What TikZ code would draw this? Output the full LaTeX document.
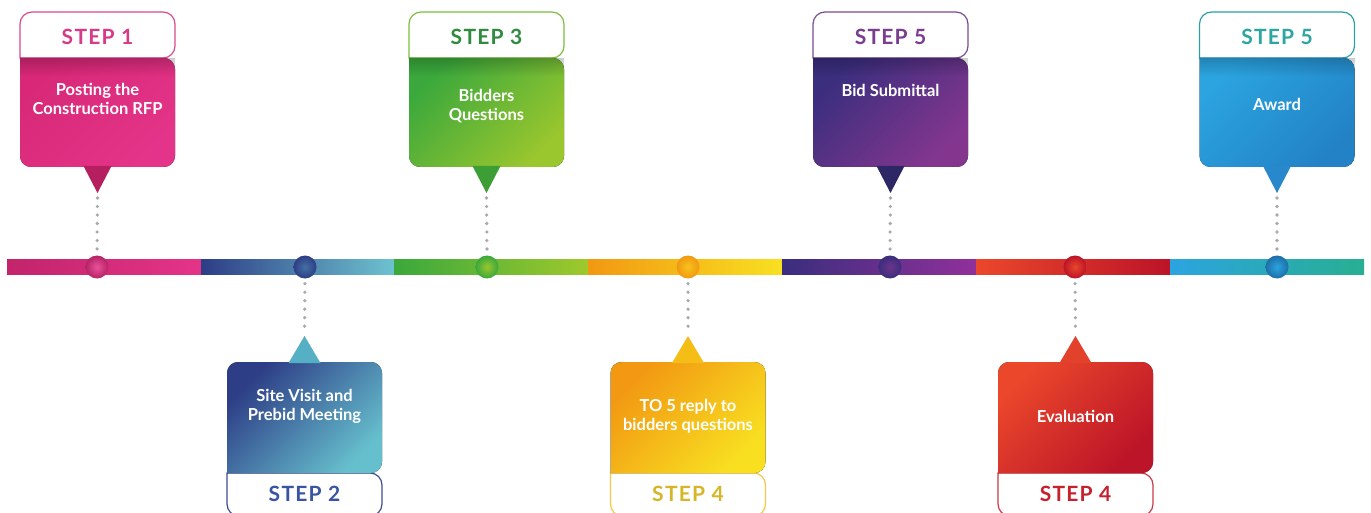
\documentclass[tikz,border=0pt]{standalone}
\usepackage{fontspec}
\setsansfont{Lato}
\newfontfamily\stepfont{Lato}[LetterSpace=6]
\usetikzlibrary{positioning,fadings}

% colour sets: A/B box, O outline, L label, T pointer
\definecolor{pinkA}{HTML}{D82877}\definecolor{pinkB}{HTML}{E43489}
\definecolor{pinkO}{HTML}{D84B8C}\definecolor{pinkL}{HTML}{D73A86}\definecolor{pinkT}{HTML}{B51F60}
\definecolor{navyA}{HTML}{2D3D86}\definecolor{navyB}{HTML}{66BFCD}
\definecolor{navyO}{HTML}{3E4E93}\definecolor{navyL}{HTML}{3955A2}\definecolor{navyT}{HTML}{55AFC5}
\definecolor{grnA}{HTML}{3AA83C}\definecolor{grnB}{HTML}{9AC62E}
\definecolor{grnO}{HTML}{7DBE3C}\definecolor{grnL}{HTML}{2F8B3D}\definecolor{grnT}{HTML}{3E9E36}
\definecolor{ylwA}{HTML}{F29812}\definecolor{ylwB}{HTML}{F8E021}
\definecolor{ylwO}{HTML}{F2C84A}\definecolor{ylwL}{HTML}{D6B628}\definecolor{ylwT}{HTML}{F5BE17}
\definecolor{purA}{HTML}{3A2E7D}\definecolor{purB}{HTML}{84368F}
\definecolor{purO}{HTML}{7A4A92}\definecolor{purL}{HTML}{7B3D90}\definecolor{purT}{HTML}{2D2766}
\definecolor{redA}{HTML}{EA472B}\definecolor{redB}{HTML}{BC1428}
\definecolor{redO}{HTML}{C83A45}\definecolor{redL}{HTML}{C5212F}\definecolor{redT}{HTML}{E2422B}
\definecolor{skyA}{HTML}{2BA4E0}\definecolor{skyB}{HTML}{2282C5}
\definecolor{skyO}{HTML}{2C9FA6}\definecolor{skyL}{HTML}{2CA6A2}\definecolor{skyT}{HTML}{2788CB}
\definecolor{leadgrey}{HTML}{A9A9AD}

% box above the line: x, id, colour set, label, text, text y
\newcommand{\topstep}[6]{%
  \filldraw[fill=white,draw=#3O,line width=1.2pt]
    (#1-77.5,58) [rounded corners=12pt] -- (#1-77.5,12) -- (#1+77.5,12) -- (#1+77.5,58) [sharp corners] -- cycle;
  \fill[left color=#3A,right color=#3B,shading angle=45]
    (#1-77.5,58) [rounded corners=11pt] -- (#1-77.5,167) -- (#1+77.5,167) -- (#1+77.5,58) [sharp corners] -- cycle;
  \fill[black,opacity=.2,path fading=south] (#1-77.5,58) rectangle (#1+77.5,76);
  \fill[#3T] (#1-14,166) -- (#1+14,166) -- (#1,193) -- cycle;
  \coordinate (tip#2) at (#1,193);
  \node[steplabel,text=#3L] (lab#2) at (#1,37) {#4};
  \node[steptext] (txt#2) at (#1,#6) {#5};
  \draw[lead] (tip#2) -- (dot#2.north);
}
% box below the line
\newcommand{\botstep}[6]{%
  \filldraw[fill=white,draw=#3O,line width=1.2pt]
    (#1-77.5,473) [rounded corners=12pt] -- (#1-77.5,516) -- (#1+77.5,516) -- (#1+77.5,473) [sharp corners] -- cycle;
  \fill[left color=#3A,right color=#3B,shading angle=45]
    (#1-77.5,473) [rounded corners=11pt] -- (#1-77.5,362) -- (#1+77.5,362) -- (#1+77.5,473) [sharp corners] -- cycle;
  \fill[#3T] (#1-16,363) -- (#1+16,363) -- (#1,336) -- cycle;
  \coordinate (tip#2) at (#1,336);
  \node[steplabel,text=#3L] (lab#2) at (#1,494) {#4};
  \node[steptext] (txt#2) at (#1,#6) {#5};
  \draw[lead] (dot#2.south) -- (tip#2);
}

\begin{document}
\begin{tikzpicture}[x=1pt,y=-1pt,
    dot/.style={circle,minimum size=23pt,inner sep=0pt},
    lead/.style={draw=leadgrey,line width=3.6pt,line cap=round,dash pattern=on 0pt off 8.5pt,
                 shorten <=5pt,shorten >=5pt},
    steptext/.style={font=\sffamily\bfseries\fontsize{16.5}{19}\selectfont,text=white,align=center},
    steplabel/.style={font=\stepfont\bfseries\fontsize{21}{23}\selectfont}
  ]
  \useasboundingbox (0,0) rectangle (1371,513);

  % time line
  \fill[left color=pinkA!90!black,right color=pinkB] (7,260) rectangle (201,274);
  \fill[left color=navyA,right color=navyB!95!white] (201,260) rectangle (394,274);
  \fill[left color=grnA,right color=grnB!95!yellow] (394,260) rectangle (588,274);
  \fill[left color=ylwA,right color=ylwB] (588,260) rectangle (782,274);
  \fill[left color=purA,right color=purB!90!magenta] (782,260) rectangle (976,274);
  \fill[left color=redA,right color=redB] (976,260) rectangle (1170,274);
  \fill[left color=skyA,middle color=skyB,right color=skyL!90!green] (1170,260) rectangle (1364,274);

  \node[dot,inner color=pinkB!85!white,outer color=pinkA!85!black] (dot1) at (97,267) {};
  \node[dot,inner color=navyA!60!navyB,outer color=navyA] (dot2) at (305,267) {};
  \node[dot,inner color=grnB,outer color=grnA] (dot3) at (487,267) {};
  \node[dot,inner color=ylwB!60!ylwA,outer color=ylwA] (dot4) at (688,267) {};
  \node[dot,inner color=purB!70!purA,outer color=purA] (dot5) at (890,267) {};
  \node[dot,inner color=redA,outer color=redB] (dot6) at (1075,267) {};
  \node[dot,inner color=skyA,outer color=skyB!85!black] (dot7) at (1277,267) {};

  % steps
  \topstep{97.5}{1}{pink}{STEP 1}{Posting the\\Construction RFP}{99}
  \botstep{304.5}{2}{navy}{STEP 2}{Site Visit and\\Prebid Meeting}{406}
  \topstep{486.5}{3}{grn}{STEP 3}{Bidders\\Questions}{106}
  \botstep{688}{4}{ylw}{STEP 4}{TO 5 reply to\\bidders questions}{416}
  \topstep{890.5}{5}{pur}{STEP 5}{Bid Submittal}{90}
  \botstep{1075.5}{6}{red}{STEP 4}{Evaluation}{416}
  \topstep{1277}{7}{sky}{STEP 5}{Award}{104}
\end{tikzpicture}
\end{document}
